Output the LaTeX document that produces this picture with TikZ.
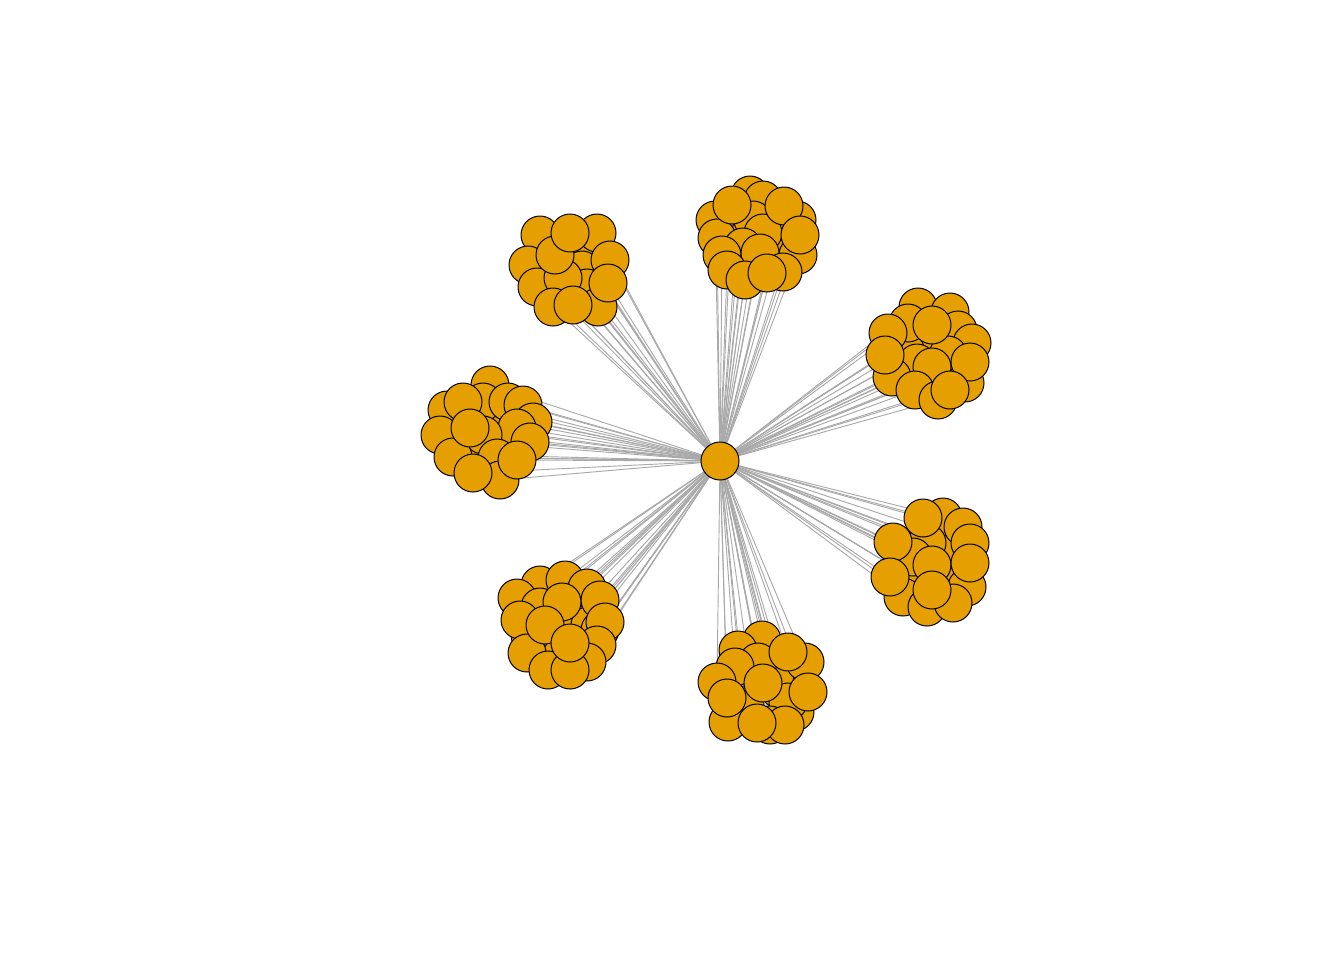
\documentclass[tikz,border=0pt]{standalone}
\usetikzlibrary{backgrounds}
\definecolor{nodefill}{HTML}{E69F00}
\definecolor{edgecol}{HTML}{A9A9A9}
\begin{document}
\begin{tikzpicture}[x=0.75pt,y=-0.75pt,
  vtx/.style={circle,draw=black,line width=0.75pt,fill=nodefill,minimum size=28.5pt,inner sep=0pt},
  edge/.style={draw=edgecol,line width=0.7pt}]
\useasboundingbox (0,0) rectangle (1344,960);
\node[vtx] (c) at (720,461) {};
\foreach [count=\i] \px/\py in {
 780/245, 740/230, 770/255, 735/262,
 750/195, 763/200, 797/220, 715/220, 753/220, 717/238, 763/233, 743/247, 722/255, 760/253, 798/255, 727/270, 745/280, 783/272, 732/205, 784/206, 800/235, 767/273,
 580/250, 570/285, 590/262, 545/275,
 540/235, 597/233, 528/265, 582/270, 610/260, 537/287, 587/288, 563/278, 553/307, 598/307, 555/255, 570/233, 608/283, 573/305,
 930/345, 945/370, 905/350, 925/380,
 918/307, 950/312, 908/323, 958/330, 972/343, 888/333, 948/355, 917/363, 932/367, 892/377, 915/390, 938/400, 965/383, 932/325, 885/355, 970/362, 950/390,
 500/430, 495/415, 480/455, 515/445,
 490/385, 483/402, 508/402, 523/405, 447/410, 533/422, 517/428, 440/435, 530/442, 483/435, 453/457, 497/458, 500/480, 463/402, 470/428, 517/460, 473/473,
 950/570, 945/545, 915/580, 955/550,
 943/517, 963/527, 927/543, 970/543, 913/557, 932/565, 903/597, 967/587, 927/607, 953/603, 923/518, 893/542, 970/563, 890/577, 932/590,
 575/620, 590/625, 560/650, 530/635, 600/630,
 540/585, 565/580, 587/588, 517/598, 540/607, 600/600, 520/620, 605/622, 597/645, 527/653, 587/662, 548/670, 570/670, 562/602, 545/625, 570/643,
 795/712, 745/705, 780/690, 775/675,
 762/640, 738/650, 758/662, 805/662, 735/667, 717/682, 788/702, 728/722, 770/725, 785/725, 788/652, 763/683, 808/692, 727/698, 757/723}
{
  \node[vtx] (n\i) at (\px,\py) {};
  \begin{scope}[on background layer]
    \draw[edge] (c.center) -- (n\i.center);
  \end{scope}
}
\end{tikzpicture}
\end{document}
